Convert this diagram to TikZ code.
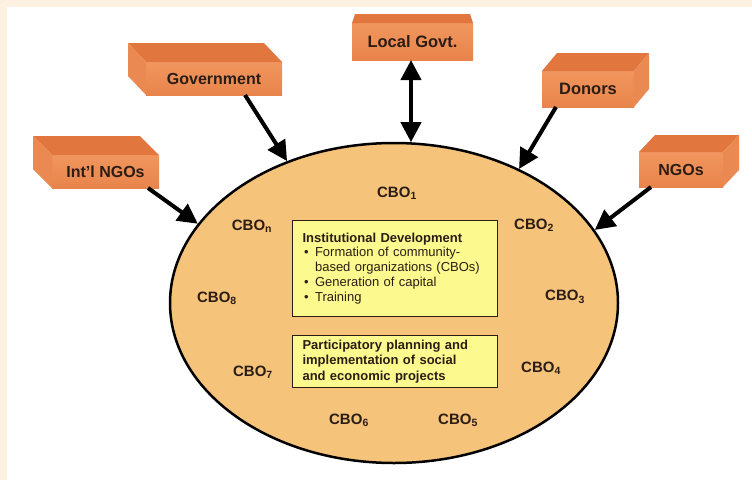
\documentclass[tikz,border=0pt]{standalone}
\usepackage{fontspec}
\setmainfont{Liberation Sans}
\usetikzlibrary{shapes.geometric,arrows.meta}
\definecolor{cream}{HTML}{FDF1E2}
\definecolor{ellfill}{HTML}{F6C37A}
\definecolor{yfill}{HTML}{FCFA8E}
\definecolor{bfronttop}{HTML}{F0965E}
\definecolor{bfrontbot}{HTML}{E8844B}
\definecolor{btop}{HTML}{E2763F}
\definecolor{bside}{HTML}{EA8A52}
\definecolor{ink}{HTML}{2B1D14}
\begin{document}
\begin{tikzpicture}[x=1pt,y=-1pt,
  front/.style={top color=bfronttop, bottom color=bfrontbot, inner sep=0pt, outer sep=0pt, font=\fontsize{16}{19}\selectfont\bfseries, text=ink},
  cbo/.style={font=\fontsize{15}{18}\selectfont\bfseries, text=ink, inner sep=0pt},
  ybox/.style={draw=ink, line width=1.1pt, fill=yfill, anchor=north west, inner xsep=10pt, inner ysep=0pt, align=left, text=ink, text width=185pt, font=\fontsize{13}{15}\selectfont},
  arr/.style={line width=4pt, black, -{Triangle[length=20pt,width=20pt]}},
  darr/.style={line width=4pt, black, {Triangle[length=20pt,width=20pt]}-{Triangle[length=20pt,width=20pt]}}]
\useasboundingbox (0,0) rectangle (752,480);
\fill[white] (0,0) rectangle (752,480);
\fill[cream] (0,0) rectangle (752,7);
\fill[cream] (0,0) rectangle (7,480);

% central ellipse
\node[ellipse, draw=black, line width=2.5pt, fill=ellfill, minimum width=448pt, minimum height=320pt, inner sep=0pt] (ell) at (394,303) {};

% boxes: Government (depth up-left)
\node[front, minimum width=136pt, minimum height=33pt] (gov) at (214,78.5) {Government};
\fill[btop] (gov.north west) -- (gov.north east) -- ++(-18,-19) -- ++(-136,0) -- cycle;
\fill[bside] (gov.north west) -- ++(-18,-19) -- ++(0,33) -- (gov.south west) -- cycle;

% Int'l NGOs
\node[front, minimum width=107pt, minimum height=33pt] (intl) at (105.5,171.5) {Int'l NGOs};
\fill[btop] (intl.north west) -- (intl.north east) -- ++(-19,-19) -- ++(-107,0) -- cycle;
\fill[bside] (intl.north west) -- ++(-19,-19) -- ++(0,33) -- (intl.south west) -- cycle;

% Local Govt.
\node[front, minimum width=121pt, minimum height=37pt, font=\fontsize{16.5}{19}\selectfont\bfseries] (lg) at (412.5,41.5) {Local Govt.};
\fill[btop] (lg.north west) -- (lg.north east) -- ++(-3,-9) -- ++(-115,0) -- cycle;

% Donors (depth up-right)
\node[front, minimum width=92pt, minimum height=36pt, font=\fontsize{16.5}{19}\selectfont\bfseries] (don) at (588,89) {Donors};
\fill[btop] (don.north west) -- (don.north east) -- ++(15,-18) -- ++(-92,0) -- cycle;
\fill[bside] (don.north east) -- ++(15,-18) -- ++(0,36) -- (don.south east) -- cycle;

% NGOs
\node[front, minimum width=84pt, minimum height=35pt] (ngo) at (681,169.5) {NGOs};
\fill[btop] (ngo.north west) -- (ngo.north east) -- ++(16,-17) -- ++(-84,0) -- cycle;
\fill[bside] (ngo.north east) -- ++(16,-17) -- ++(0,35) -- (ngo.south east) -- cycle;

% yellow boxes
\node[ybox, minimum height=96pt] (inst) at (292,220) {\textbf{Institutional Development}\\[-0.5pt]
\hspace*{1.5pt}\makebox[11pt][l]{•}Formation of community-\\
\hspace*{12.5pt}based organizations (CBOs)\\
\hspace*{1.5pt}\makebox[11pt][l]{•}Generation of capital\\
\hspace*{1.5pt}\makebox[11pt][l]{•}Training};
\node[ybox, minimum height=52pt, font=\fontsize{13}{15.5}\selectfont\bfseries] (plan) at (292,335) {Participatory planning and\\implementation of social\\and economic projects};

% CBO labels
\node[cbo] (c1) at (397,193) {CBO\textsubscript{1}};
\node[cbo] (cn) at (252,226) {CBO\textsubscript{n}};
\node[cbo] (c2) at (534,225) {CBO\textsubscript{2}};
\node[cbo] (c8) at (217,298) {CBO\textsubscript{8}};
\node[cbo] (c3) at (565,297) {CBO\textsubscript{3}};
\node[cbo] (c7) at (253,372) {CBO\textsubscript{7}};
\node[cbo] (c4) at (541,368) {CBO\textsubscript{4}};
\node[cbo] (c6) at (349,420) {CBO\textsubscript{6}};
\node[cbo] (c5) at (458,420) {CBO\textsubscript{5}};

% arrows
\draw[arr] ([xshift=31pt]gov.south) -- (ell.127.2);
\draw[arr] ([xshift=42.5pt]intl.south) -- (ell.158.3);
\draw[darr] ([xshift=-1.5pt]lg.south) -- ([xshift=-1.5pt]lg.south |- ell.84);
\draw[arr] ([xshift=-32pt]don.south) -- (ell.47.2);
\draw[arr] ([xshift=-30pt]ngo.south) -- (ell.20.1);
\end{tikzpicture}
\end{document}
